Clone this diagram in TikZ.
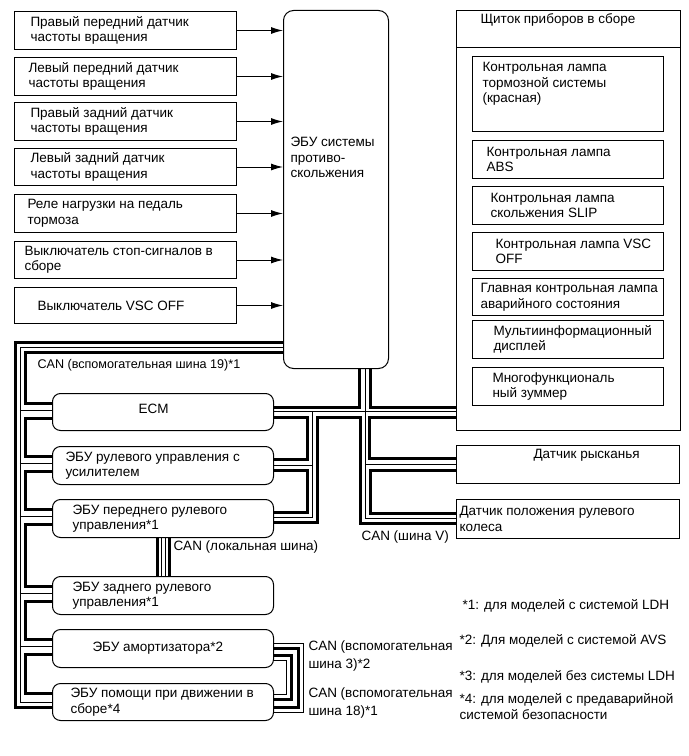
\documentclass[tikz,border=0pt]{standalone}
\usepackage{fontspec}
\setmainfont{Liberation Sans}
\usetikzlibrary{arrows.meta}

\begin{document}
\begin{tikzpicture}[x=1bp, y=-1bp, >={Latex[length=12bp,width=7bp]},
  font=\fontsize{13.5bp}{15.5bp}\selectfont, line width=1bp,
  sensor/.style={draw, minimum width=222bp, minimum height=37bp, anchor=north west, inner sep=0pt},
  ctrl/.style={draw, rounded corners=8bp, minimum width=221bp, minimum height=37bp, anchor=north west, inner sep=0pt},
  lamp/.style={draw, minimum width=191bp, minimum height=38bp, anchor=north west, inner sep=0pt},
  tx/.style={inner sep=0pt, align=left},
  thk/.style={line width=3bp},
  thn/.style={line width=1bp}]
  \useasboundingbox (0,0) rectangle (689,756);

  % sensors and switches
  \node[sensor, minimum height=38bp, label={[tx,anchor=west,xshift=16bp]west:{Правый передний датчик\\частоты вращения}}] (sfr) at (14,11) {};
  \node[sensor, minimum height=38bp, label={[tx,anchor=west,xshift=14bp]west:{Левый передний датчик\\частоты вращения}}] (sfl) at (14,57) {};
  \node[sensor, minimum height=38bp, label={[tx,anchor=west,xshift=16bp]west:{Правый задний датчик\\частоты вращения}}] (srr) at (14,102) {};
  \node[sensor, label={[tx,anchor=west,xshift=16bp]west:{Левый задний датчик\\частоты вращения}}] (srl) at (14,148) {};
  \node[sensor, minimum height=38bp, label={[tx,anchor=west,xshift=13bp]west:{Реле нагрузки на педаль\\тормоза}}] (brake) at (14,194) {};
  \node[sensor, label={[tx,anchor=west,xshift=10bp]west:{Выключатель стоп-сигналов в\\сборе}}] (stop) at (14,241) {};
  \node[sensor, minimum height=36bp, label={[tx,anchor=west,xshift=23bp]west:{Выключатель VSC OFF}}] (vscsw) at (14,287) {};

  \node[draw, rounded corners=10bp, minimum width=105bp, minimum height=358bp, anchor=north west, inner sep=0pt,
    label={[tx,anchor=west,xshift=7bp,yshift=32bp]west:{ЭБУ системы\\противо-\\скольжения}}] (ecu) at (283,10) {};

  \foreach \s in {sfr,sfl,srr,srl,brake,stop,vscsw}
    \draw[->] (\s.east) -- (ecu.west |- \s.east);

  % combination meter
  \node[draw, minimum width=224bp, minimum height=420bp, anchor=north west, inner sep=0pt,
    label={[tx,anchor=north west,xshift=24bp,yshift=-3bp]north west:{Щиток приборов в сборе}}] (panel) at (456,10) {};
  \draw (panel.west |- 0,48) -- (panel.east |- 0,48);
  \node[lamp, minimum height=75bp, label={[tx,anchor=north west,xshift=10bp,yshift=-6bp]north west:{Контрольная лампа\\тормозной системы\\(красная)}}] (lbrake) at (472,56) {};
  \node[lamp, label={[tx,anchor=west,xshift=14bp]west:{Контрольная лампа\\ABS}}] (labs) at (472,140) {};
  \node[lamp, label={[tx,anchor=west,xshift=18bp]west:{Контрольная лампа\\скольжения SLIP}}] (lslip) at (472,186) {};
  \node[lamp, label={[tx,anchor=west,xshift=23bp]west:{Контрольная лампа VSC\\OFF}}] (lvsc) at (472,232) {};
  \node[lamp, minimum height=37bp, label={[tx,anchor=west,xshift=8bp]west:{Главная контрольная лампа\\аварийного состояния}}] (lmaster) at (472,278) {};
  \node[lamp, label={[tx,anchor=west,xshift=21bp]west:{Мультиинформационный\\дисплей}}] (lmid) at (472,320) {};
  \node[lamp, label={[tx,anchor=west,xshift=20bp]west:{Многофункциональ\\ный зуммер}}] (lbuzz) at (472,367) {};

  \node[draw, minimum width=223bp, minimum height=38bp, anchor=north west, inner sep=0pt,
    label={[tx,anchor=north west,xshift=77bp,yshift=-4bp]north west:{Датчик рысканья}}] (yaw) at (456,445) {};
  \node[draw, minimum width=223bp, minimum height=39bp, anchor=north west, inner sep=0pt,
    label={[tx,anchor=west,xshift=3bp]west:{Датчик положения рулевого\\колеса}}] (steer) at (456,499) {};

  % ECUs on the buses
  \node[ctrl, label={[tx,anchor=west,xshift=86bp,yshift=3bp]west:{ECM}}] (ecm) at (52,393) {};
  \node[ctrl, minimum height=38bp, label={[tx,anchor=west,xshift=13bp]west:{ЭБУ рулевого управления с\\усилителем}}] (eps) at (52,446) {};
  \node[ctrl, minimum height=38bp, label={[tx,anchor=west,xshift=20bp]west:{ЭБУ переднего рулевого\\управления*1}}] (fsteer) at (52,499) {};
  \node[ctrl, minimum height=38bp, label={[tx,anchor=west,xshift=20bp]west:{ЭБУ заднего рулевого\\управления*1}}] (rsteer) at (52,576) {};
  \node[ctrl, minimum height=38bp, label={[tx,anchor=west,xshift=40bp]west:{ЭБУ амортизатора*2}}] (susp) at (52,629) {};
  \node[ctrl, label={[tx,anchor=west,xshift=18bp]west:{ЭБУ помощи при движении в\\сборе*4}}] (assist) at (52,683) {};

  % CAN sub bus 19
  \draw[thk] (ecu.west |- 0,342) -| (15,707) -- (assist.west |- 0,707);
  \draw[thn] (ecu.west |- 0,347) -| (20,702) -- (assist.west |- 0,702);
  \draw[thk] (ecu.west |- 0,352) -| (25,403) -- (ecm.west |- 0,403);
  \foreach \a/\b in {ecm/eps,eps/fsteer,fsteer/rsteer,rsteer/susp,susp/assist}
    \draw[thk] ([yshift=-25bp]\a.north west) -| ([xshift=-27bp,yshift=-10bp]\b.north west) -- ([yshift=-10bp]\b.north west);
  \foreach \b in {ecm,eps,fsteer,rsteer,susp}
    \draw[thn] ([xshift=-32bp,yshift=-17bp]\b.north west) -- ([yshift=-17bp]\b.north west);
  \node[anchor=west, inner sep=0pt, font=\fontsize{12.6bp}{15bp}\selectfont] (can19) at (37,365) {CAN (вспомогательная шина 19)*1};

  % CAN V bus
  \draw[thk] (359,0 |- ecu.south) |- (ecm.east |- 0,407);
  \draw[thk] (370,0 |- ecu.south) |- (panel.west |- 0,407);
  \draw[thn] (365,0 |- ecu.south) |- (steer.west |- 0,518);
  \draw[thn] (ecm.east |- 0,411.5) -- (panel.west |- 0,411.5);
  \draw[thn] (365,464) -- (yaw.west |- 0,464);
  \draw[thn] (312,411.5) |- (fsteer.east |- 0,517);
  \draw[thn] (312,465) -- (eps.east |- 0,465);
  \draw[thk] (ecm.east |- 0,417) -| (307,459) -- (eps.east |- 0,459);
  \draw[thk] (eps.east |- 0,470) -| (307,512) -- (fsteer.east |- 0,512);
  \draw[thk] (fsteer.east |- 0,522) -| (317,417) -| (360,523) -- (steer.west |- 0,523);
  \draw[thk] (panel.west |- 0,417) -| (369,458) -- (yaw.west |- 0,458);
  \draw[thk] (yaw.west |- 0,470) -| (370,513) -- (steer.west |- 0,513);
  \node[anchor=west, inner sep=0pt] (canv) at (361,537) {CAN (шина V)};

  % CAN local bus
  \foreach \x/\s in {157/thk,161.5/thn,165/thn,169/thk}
    \draw[\s] (\x,0 |- fsteer.south) -- (\x,0 |- rsteer.north);
  \node[anchor=west, inner sep=0pt] (canloc) at (173,547) {CAN (локальная шина)};

  % CAN sub buses 3 and 18
  \draw[thn] (susp.east |- 0,643) -| (303,712) -- (assist.east |- 0,712);
  \draw[thk] (susp.east |- 0,648) -| (298,707) -- (assist.east |- 0,707);
  \draw[thk] (susp.east |- 0,655) -| (291,699) -- (assist.east |- 0,699);
  \draw[thn] (susp.east |- 0,660) -| (286,694) -- (assist.east |- 0,694);
  \node[tx, anchor=north west, font=\fontsize{13.5bp}{18bp}\selectfont] (can3) at (308,640) {CAN (вспомогательная\\шина 3)*2};
  \node[tx, anchor=north west, font=\fontsize{13.5bp}{18bp}\selectfont] (can18) at (308,687) {CAN (вспомогательная\\шина 18)*1};

  % notes
  \node[anchor=west, inner sep=0pt] (n1) at (462,606) {*1: для моделей с системой LDH};
  \node[anchor=west, inner sep=0pt] (n2) at (459,641) {*2: Для моделей с системой AVS};
  \node[anchor=west, inner sep=0pt] (n3) at (459,677) {*3: для моделей без системы LDH};
  \node[tx, anchor=north west] (n4) at (459,693) {*4: для моделей с предаварийной\\системой безопасности};
\end{tikzpicture}
\end{document}
